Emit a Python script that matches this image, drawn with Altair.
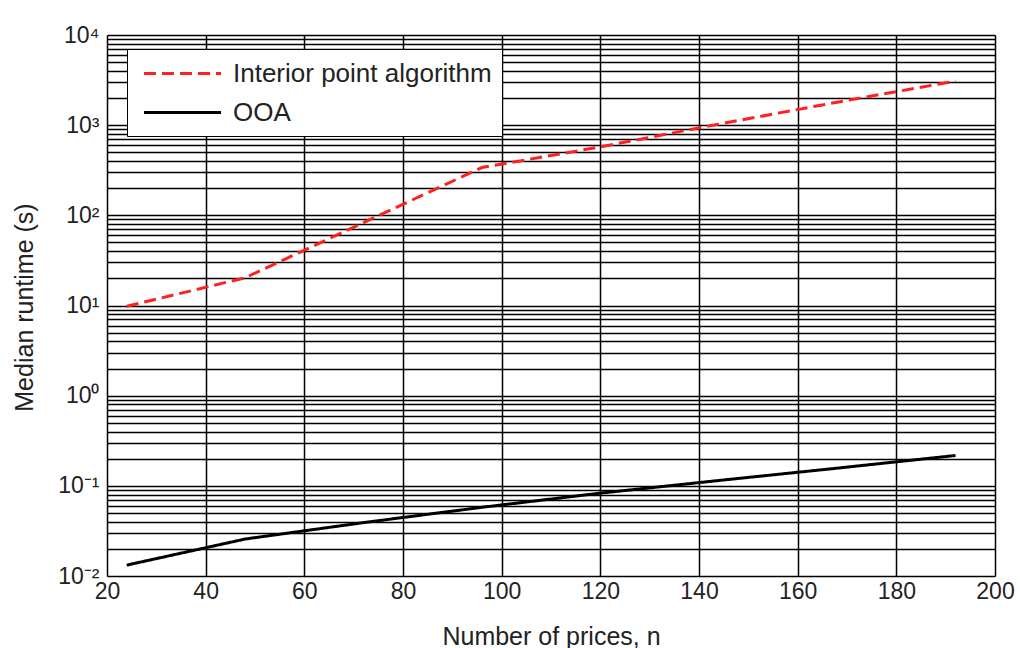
import altair as alt
import pandas as pd

# ---- data ----
n_values = [24, 48, 72, 96, 120, 144, 168, 192]
interior_point = [9.8, 20.3, 83, 339, 574, 1027, 1798, 3083]
ooa = [0.0132, 0.0257, 0.0391, 0.0578, 0.083, 0.1146, 0.157, 0.217]
series_names = ["Interior point algorithm", "OOA"]
series_colors = ["#ff2020", "#000000"]
x_ticks = [20, 40, 60, 80, 100, 120, 140, 160, 180, 200]
y_exponents = [-2, -1, 0, 1, 2, 3, 4]
y_sup = ["⁻²", "⁻¹", "⁰", "¹", "²", "³", "⁴"]

rows = []
for n, v in zip(n_values, interior_point):
    rows.append({"n": n, "runtime": v, "series": series_names[0]})
for n, v in zip(n_values, ooa):
    rows.append({"n": n, "runtime": v, "series": series_names[1]})
df = pd.DataFrame(rows)

# log grid values: 1..9 x 10^k
grid_vals = []
for e in y_exponents[:-1]:
    for m in range(1, 10):
        grid_vals.append(float(f"{m}e{e}"))
grid_vals.append(float(f"1e{y_exponents[-1]}"))

label_expr = ""
for e, s in zip(y_exponents, y_sup):
    label_expr += f"abs(datum.value - 1e{e}) < 1e{e}*1e-6 ? '10{s}' : "
label_expr += "''"

FONT = "Liberation Sans"
TXT = "#222222"

legend = alt.Legend(
    title=None,
    orient="none",
    legendX=20,
    legendY=14,
    direction="vertical",
    strokeColor="black",
    fillColor="white",
    padding=10,
    labelFont=FONT,
    labelFontSize=26,
    labelColor=TXT,
    labelLimit=400,
    symbolType="M-3,0H3",
    symbolSize=660,
    symbolStrokeWidth=3,
    symbolOffset=31,
    labelOffset=36,
    rowPadding=11,
)

chart = alt.Chart(df).mark_line(strokeWidth=3).encode(
    x=alt.X(
        "n:Q",
        scale=alt.Scale(domain=[20, 200], nice=False, zero=False),
        axis=alt.Axis(
            values=x_ticks,
            title="Number of prices, n",
            labelFont=FONT,
            labelFontSize=23,
            labelColor=TXT,
            labelPadding=4,
            labelFlush=False,
            labelOverlap=False,
            ticks=False,
            domain=False,
            grid=True,
            gridColor="black",
            gridWidth=1.5,
            gridOpacity=1,
            titleFont=FONT,
            titleFontSize=25,
            titleFontWeight="normal",
            titleColor=TXT,
            titleBaseline="alphabetic",
            titleY=68,
        ),
    ),
    y=alt.Y(
        "runtime:Q",
        scale=alt.Scale(type="log", domain=[0.01, 10000], nice=False),
        axis=alt.Axis(
            values=grid_vals,
            labelExpr=label_expr,
            title="Median runtime (s)",
            labelFont=FONT,
            labelFontSize=23,
            labelColor=TXT,
            labelPadding=8,
            labelOverlap=False,
            labelFlush=False,
            ticks=False,
            domain=False,
            grid=True,
            gridColor="black",
            gridWidth=1.5,
            gridOpacity=1,
            titleFont=FONT,
            titleFontSize=25,
            titleFontWeight="normal",
            titleColor=TXT,
            titleBaseline="alphabetic",
            titleX=-75,
            titleY=272,
            titleAlign="center",
        ),
    ),
    color=alt.Color(
        "series:N",
        scale=alt.Scale(domain=series_names, range=series_colors),
        legend=legend,
    ),
    strokeDash=alt.StrokeDash(
        "series:N",
        scale=alt.Scale(domain=series_names, range=[[12, 6], [1, 0]]),
        legend=legend,
    ),
).properties(
    width=888,
    height=541,
    autosize=alt.AutoSizeParams(type="none"),
    padding={"left": 107, "top": 35, "right": 25, "bottom": 72},
).configure_view(
    stroke="black",
    strokeWidth=2,
).configure(
    background="white",
)

chart.save("out.html", embed_options={"renderer": "svg", "actions": False})
